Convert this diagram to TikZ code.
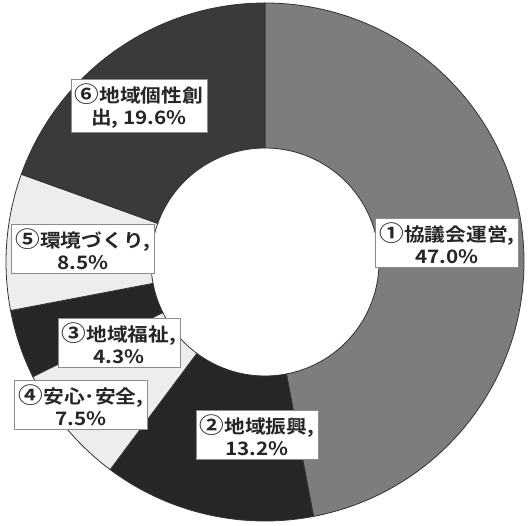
\documentclass[tikz,border=0pt]{standalone}
\usepackage{fontspec}
\setmainfont{Noto Sans CJK JP}[BoldFont={Noto Sans CJK JP Bold}, FakeStretch=1.12]
\definecolor{segmid}{HTML}{7D7D7D}
\definecolor{segdark}{HTML}{262626}
\definecolor{segdarkb}{HTML}{3A3A3A}
\definecolor{seglight}{HTML}{EDEDED}
\newcommand{\cnum}[1]{{\fontsize{22}{22}\selectfont #1}}
\tikzset{
  seg/.style={draw=black!80, line width=0.8pt},
  lbl/.style={draw=black!45, fill=white, line width=0.6pt, align=center,
    inner sep=4pt, font=\bfseries\fontsize{18.5}{22}\selectfont, text=black!85}
}
\begin{document}
\begin{tikzpicture}[x=1pt,y=1pt]
            \useasboundingbox (0,0) rectangle (529,525);
            \begin{scope}[shift={(265,263)}]
            \draw[seg, fill=segmid] (90:259) arc[start angle=90, end angle=-79.2, radius=259] -- (-79.2:114) arc[start angle=-79.2, end angle=90, radius=114] -- cycle;
            \draw[seg, fill=segdark] (-79.2:259) arc[start angle=-79.2, end angle=-126.72, radius=259] -- (-126.72:114) arc[start angle=-126.72, end angle=-79.2, radius=114] -- cycle;
            \draw[seg, fill=seglight] (-126.72:259) arc[start angle=-126.72, end angle=-153.72, radius=259] -- (-153.72:114) arc[start angle=-153.72, end angle=-126.72, radius=114] -- cycle;
            \draw[seg, fill=segdark] (-153.72:259) arc[start angle=-153.72, end angle=-169.2, radius=259] -- (-169.2:114) arc[start angle=-169.2, end angle=-153.72, radius=114] -- cycle;
            \draw[seg, fill=seglight] (-169.2:259) arc[start angle=-169.2, end angle=-199.8, radius=259] -- (-199.8:114) arc[start angle=-199.8, end angle=-169.2, radius=114] -- cycle;
            \draw[seg, fill=segdarkb] (-199.8:259) arc[start angle=-199.8, end angle=-270, radius=259] -- (-270:114) arc[start angle=-270, end angle=-199.8, radius=114] -- cycle;
            \end{scope}
            % labels
            \node[lbl] (kyogikai) at (447,282) {\cnum{①}協議会運営,\\47.0\%};
            \node[lbl] (shinko) at (257,90) {\cnum{②}地域振興,\\13.2\%};
            \node[lbl] (fukushi) at (119,182) {\cnum{③}地域福祉,\\4.3\%};
            \node[lbl] (anzen) at (81,120) {\cnum{④}安心･安全,\\7.5\%};
            \node[lbl] (kankyo) at (83,276) {\cnum{⑤}環境づくり,\\8.5\%};
            \node[lbl] (kosei) at (139,419) {\cnum{⑥}地域個性創\\出, 19.6\%};
\end{tikzpicture}
\end{document}
